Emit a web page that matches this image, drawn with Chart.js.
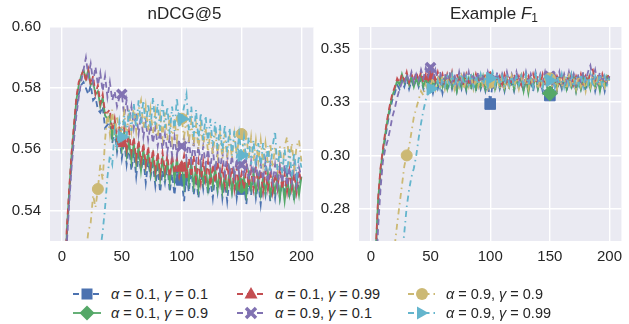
<!DOCTYPE html>
<html>
<head>
<meta charset="utf-8">
<script src="https://cdn.jsdelivr.net/npm/chart.js@4.4.1/dist/chart.umd.min.js"></script>
<style>
  body { margin: 0; background: #fff; }
  #wrap { position: relative; width: 629px; height: 324px; overflow: hidden; font-family: "Liberation Sans", Arial, sans-serif; color: #262626; }
  canvas { position: absolute; top: 0; }
  .title { position: absolute; top: 4px; font-size: 17px; line-height: 20px; text-align: center; white-space: nowrap; }
  .title sub { font-size: 12px; vertical-align: -3px; font-style: normal; }
  .leg { position: absolute; height: 18px; display: flex; align-items: center; font-family: "Liberation Sans", sans-serif; font-size: 14.5px; white-space: nowrap; }
  .leg svg { margin-right: 10px; }
</style>
</head>
<body>
<div id="wrap">
  <canvas id="left" width="321" height="270" style="left:0"></canvas>
  <canvas id="right" width="320" height="270" style="left:309px"></canvas>
  <div class="title" style="left:50px;width:269px">nDCG@5</div>
  <div class="title" style="left:359px;width:270px">Example <i>F</i><sub>1</sub></div>
</div>
<script>
// epochs
const epochs = [0, 2, 4, 6, 8, 10, 12, 14, 16, 18, 20, 22, 24, 26, 28, 30, 32, 34, 36, 38,
  40, 42, 44, 46, 48, 50, 52, 54, 56, 58, 60, 62, 64, 66, 68, 70, 72, 74, 76, 78,
  80, 82, 84, 86, 88, 90, 92, 94, 96, 98, 100, 102, 104, 106, 108, 110, 112, 114, 116, 118,
  120, 122, 124, 126, 128, 130, 132, 134, 136, 138, 140, 142, 144, 146, 148, 150, 152, 154, 156, 158,
  160, 162, 164, 166, 168, 170, 172, 174, 176, 178, 180, 182, 184, 186, 188, 190, 192, 194, 196, 198, 200];

const seriesNames = ['α = 0.1, γ = 0.1', 'α = 0.1, γ = 0.9', 'α = 0.1, γ = 0.99',
  'α = 0.9, γ = 0.1', 'α = 0.9, γ = 0.9', 'α = 0.9, γ = 0.99'];

// nDCG@5
const ndcgBlue = [0.470, 0.500, 0.531, 0.544, 0.556, 0.565, 0.573, 0.578, 0.581, 0.582,
  0.580, 0.578, 0.581, 0.576, 0.577, 0.573, 0.572, 0.574, 0.567, 0.568,
  0.569, 0.562, 0.566, 0.559, 0.564, 0.557, 0.563, 0.555, 0.561, 0.553,
  0.559, 0.551, 0.558, 0.553, 0.557, 0.549, 0.556, 0.551, 0.555, 0.548,
  0.554, 0.546, 0.553, 0.549, 0.555, 0.546, 0.552, 0.545, 0.553, 0.549,
  0.550, 0.543, 0.552, 0.546, 0.554, 0.545, 0.551, 0.544, 0.553, 0.547,
  0.553, 0.545, 0.550, 0.544, 0.552, 0.546, 0.553, 0.544, 0.550, 0.543,
  0.551, 0.546, 0.553, 0.544, 0.550, 0.547, 0.549, 0.542, 0.550, 0.545,
  0.552, 0.544, 0.549, 0.542, 0.550, 0.545, 0.551, 0.543, 0.549, 0.544,
  0.551, 0.544, 0.550, 0.546, 0.552, 0.544, 0.550, 0.543, 0.551, 0.547, 0.552];
const ndcgGreen = [0.472, 0.502, 0.533, 0.546, 0.558, 0.567, 0.576, 0.581, 0.584, 0.586,
  0.583, 0.586, 0.581, 0.582, 0.578, 0.579, 0.574, 0.577, 0.571, 0.570,
  0.571, 0.564, 0.569, 0.561, 0.566, 0.560, 0.566, 0.558, 0.563, 0.556,
  0.562, 0.555, 0.561, 0.553, 0.560, 0.554, 0.559, 0.552, 0.558, 0.551,
  0.557, 0.550, 0.557, 0.551, 0.556, 0.549, 0.557, 0.550, 0.557, 0.551,
  0.555, 0.548, 0.556, 0.549, 0.556, 0.548, 0.554, 0.547, 0.555, 0.549,
  0.554, 0.547, 0.553, 0.548, 0.554, 0.547, 0.553, 0.546, 0.552, 0.547,
  0.553, 0.546, 0.552, 0.547, 0.552, 0.548, 0.551, 0.545, 0.552, 0.547,
  0.552, 0.546, 0.551, 0.545, 0.551, 0.546, 0.552, 0.545, 0.550, 0.546,
  0.551, 0.544, 0.550, 0.543, 0.550, 0.545, 0.550, 0.544, 0.550, 0.545, 0.551];
const ndcgRed = [0.470, 0.503, 0.534, 0.547, 0.559, 0.568, 0.577, 0.582, 0.584, 0.586,
  0.582, 0.586, 0.581, 0.584, 0.578, 0.581, 0.575, 0.578, 0.572, 0.572,
  0.573, 0.566, 0.570, 0.563, 0.568, 0.562, 0.567, 0.560, 0.566, 0.559,
  0.564, 0.557, 0.563, 0.556, 0.562, 0.555, 0.561, 0.554, 0.560, 0.553,
  0.559, 0.552, 0.559, 0.553, 0.558, 0.551, 0.558, 0.552, 0.557, 0.551,
  0.554, 0.558, 0.550, 0.557, 0.551, 0.558, 0.550, 0.556, 0.549, 0.556,
  0.550, 0.556, 0.548, 0.555, 0.549, 0.556, 0.549, 0.554, 0.548, 0.555,
  0.549, 0.554, 0.547, 0.554, 0.548, 0.552, 0.547, 0.554, 0.548, 0.553,
  0.547, 0.554, 0.548, 0.553, 0.546, 0.553, 0.547, 0.553, 0.546, 0.552,
  0.547, 0.554, 0.547, 0.552, 0.546, 0.553, 0.547, 0.552, 0.546, 0.553, 0.549];
const ndcgPurple = [0.468, 0.497, 0.529, 0.542, 0.554, 0.563, 0.571, 0.577, 0.582, 0.586,
  0.590, 0.584, 0.588, 0.582, 0.587, 0.581, 0.585, 0.579, 0.584, 0.577,
  0.582, 0.576, 0.579, 0.574, 0.577, 0.578, 0.571, 0.576, 0.569, 0.574,
  0.567, 0.572, 0.565, 0.571, 0.564, 0.569, 0.563, 0.568, 0.562, 0.567,
  0.561, 0.566, 0.560, 0.565, 0.559, 0.564, 0.558, 0.564, 0.558, 0.563,
  0.561, 0.564, 0.557, 0.563, 0.556, 0.562, 0.556, 0.561, 0.555, 0.561,
  0.555, 0.560, 0.554, 0.560, 0.553, 0.559, 0.553, 0.559, 0.552, 0.558,
  0.552, 0.558, 0.551, 0.557, 0.552, 0.555, 0.551, 0.557, 0.550, 0.556,
  0.550, 0.556, 0.549, 0.555, 0.550, 0.556, 0.549, 0.555, 0.549, 0.555,
  0.548, 0.554, 0.549, 0.555, 0.548, 0.554, 0.549, 0.555, 0.548, 0.554, 0.551];
const ndcgYellow = [0.440, 0.450, 0.460, 0.470, 0.480, 0.490, 0.498, 0.505, 0.512, 0.519,
  0.526, 0.533, 0.536, 0.545, 0.541, 0.547, 0.555, 0.550, 0.563, 0.572,
  0.565, 0.573, 0.564, 0.571, 0.563, 0.567, 0.572, 0.564, 0.573, 0.566,
  0.574, 0.566, 0.573, 0.576, 0.567, 0.574, 0.566, 0.573, 0.565, 0.572,
  0.564, 0.571, 0.564, 0.572, 0.563, 0.571, 0.563, 0.570, 0.563, 0.571,
  0.570, 0.564, 0.570, 0.562, 0.569, 0.561, 0.568, 0.560, 0.568, 0.561,
  0.567, 0.559, 0.566, 0.558, 0.566, 0.558, 0.565, 0.557, 0.565, 0.557,
  0.564, 0.557, 0.565, 0.558, 0.564, 0.565, 0.559, 0.565, 0.557, 0.564,
  0.556, 0.563, 0.556, 0.563, 0.555, 0.562, 0.555, 0.562, 0.554, 0.561,
  0.554, 0.561, 0.553, 0.561, 0.564, 0.555, 0.562, 0.554, 0.561, 0.563, 0.556];
const ndcgCyan = [0.430, 0.440, 0.450, 0.460, 0.470, 0.478, 0.485, 0.491, 0.497, 0.502,
  0.507, 0.511, 0.515, 0.518, 0.521, 0.524, 0.527, 0.533, 0.541, 0.551,
  0.558, 0.555, 0.566, 0.560, 0.569, 0.564, 0.571, 0.564, 0.573, 0.566,
  0.575, 0.567, 0.576, 0.568, 0.576, 0.567, 0.575, 0.567, 0.577, 0.568,
  0.575, 0.566, 0.576, 0.567, 0.574, 0.565, 0.574, 0.566, 0.577, 0.567,
  0.570, 0.574, 0.578, 0.566, 0.574, 0.564, 0.573, 0.563, 0.572, 0.563,
  0.571, 0.562, 0.570, 0.561, 0.569, 0.560, 0.568, 0.559, 0.568, 0.559,
  0.567, 0.558, 0.566, 0.557, 0.565, 0.558, 0.564, 0.556, 0.564, 0.555,
  0.563, 0.554, 0.562, 0.554, 0.562, 0.553, 0.561, 0.553, 0.561, 0.566,
  0.553, 0.560, 0.552, 0.560, 0.552, 0.560, 0.551, 0.559, 0.551, 0.558, 0.554];

// Example F1
const f1Blue = [0.170, 0.212, 0.250, 0.276, 0.290, 0.300, 0.308, 0.315, 0.321, 0.326,
  0.329, 0.333, 0.331, 0.335, 0.332, 0.336, 0.331, 0.335, 0.332, 0.336,
  0.332, 0.336, 0.331, 0.335, 0.330, 0.334, 0.329, 0.334, 0.331, 0.335,
  0.329, 0.335, 0.330, 0.336, 0.331, 0.335, 0.330, 0.336, 0.331, 0.335,
  0.330, 0.336, 0.331, 0.335, 0.330, 0.336, 0.331, 0.335, 0.330, 0.335,
  0.324, 0.334, 0.330, 0.336, 0.331, 0.335, 0.330, 0.336, 0.331, 0.334,
  0.330, 0.336, 0.331, 0.335, 0.330, 0.336, 0.331, 0.335, 0.330, 0.336,
  0.331, 0.335, 0.330, 0.336, 0.331, 0.328, 0.332, 0.336, 0.330, 0.335,
  0.331, 0.336, 0.330, 0.335, 0.331, 0.336, 0.330, 0.335, 0.331, 0.336,
  0.330, 0.335, 0.331, 0.336, 0.330, 0.335, 0.331, 0.336, 0.330, 0.335, 0.334];
const f1Green = [0.175, 0.216, 0.254, 0.279, 0.293, 0.302, 0.310, 0.317, 0.323, 0.328,
  0.331, 0.335, 0.333, 0.338, 0.334, 0.337, 0.333, 0.337, 0.332, 0.336,
  0.333, 0.337, 0.332, 0.336, 0.333, 0.337, 0.332, 0.336, 0.333, 0.337,
  0.332, 0.336, 0.331, 0.337, 0.332, 0.336, 0.330, 0.336, 0.332, 0.337,
  0.331, 0.336, 0.332, 0.337, 0.331, 0.336, 0.332, 0.337, 0.331, 0.336,
  0.333, 0.337, 0.331, 0.336, 0.332, 0.337, 0.331, 0.336, 0.332, 0.337,
  0.331, 0.336, 0.332, 0.337, 0.330, 0.336, 0.329, 0.336, 0.332, 0.337,
  0.331, 0.336, 0.332, 0.337, 0.331, 0.329, 0.333, 0.337, 0.331, 0.336,
  0.332, 0.337, 0.331, 0.336, 0.332, 0.337, 0.330, 0.336, 0.331, 0.337,
  0.332, 0.336, 0.331, 0.337, 0.332, 0.336, 0.330, 0.336, 0.332, 0.337, 0.335];
const f1Red = [0.172, 0.215, 0.255, 0.280, 0.294, 0.303, 0.311, 0.318, 0.324, 0.329,
  0.332, 0.336, 0.334, 0.338, 0.335, 0.339, 0.334, 0.338, 0.335, 0.339,
  0.335, 0.339, 0.334, 0.338, 0.335, 0.337, 0.340, 0.335, 0.339, 0.334,
  0.338, 0.333, 0.338, 0.334, 0.339, 0.333, 0.338, 0.334, 0.337, 0.333,
  0.338, 0.334, 0.337, 0.333, 0.338, 0.334, 0.337, 0.333, 0.338, 0.334,
  0.336, 0.333, 0.338, 0.334, 0.337, 0.333, 0.338, 0.334, 0.337, 0.333,
  0.338, 0.334, 0.337, 0.333, 0.338, 0.334, 0.337, 0.333, 0.338, 0.334,
  0.337, 0.333, 0.338, 0.334, 0.337, 0.335, 0.338, 0.333, 0.337, 0.334,
  0.338, 0.333, 0.337, 0.334, 0.338, 0.333, 0.337, 0.334, 0.338, 0.333,
  0.337, 0.334, 0.339, 0.340, 0.335, 0.338, 0.333, 0.338, 0.334, 0.338, 0.336];
const f1Purple = [0.160, 0.200, 0.240, 0.266, 0.284, 0.297, 0.303, 0.307, 0.312, 0.318,
  0.322, 0.327, 0.331, 0.334, 0.333, 0.338, 0.335, 0.339, 0.334, 0.338,
  0.335, 0.340, 0.336, 0.341, 0.337, 0.341, 0.336, 0.340, 0.335, 0.339,
  0.334, 0.338, 0.334, 0.339, 0.334, 0.338, 0.333, 0.339, 0.334, 0.338,
  0.334, 0.339, 0.333, 0.338, 0.334, 0.339, 0.334, 0.338, 0.333, 0.339,
  0.335, 0.338, 0.334, 0.339, 0.333, 0.338, 0.334, 0.339, 0.334, 0.338,
  0.334, 0.339, 0.334, 0.338, 0.333, 0.339, 0.334, 0.338, 0.334, 0.339,
  0.334, 0.338, 0.334, 0.339, 0.334, 0.337, 0.333, 0.338, 0.334, 0.339,
  0.333, 0.338, 0.334, 0.339, 0.334, 0.338, 0.333, 0.338, 0.334, 0.339,
  0.335, 0.339, 0.342, 0.336, 0.340, 0.334, 0.339, 0.334, 0.338, 0.334, 0.337];
const f1Yellow = [0.150, 0.160, 0.170, 0.180, 0.190, 0.200, 0.210, 0.220, 0.232, 0.244,
  0.258, 0.268, 0.277, 0.286, 0.295, 0.300, 0.304, 0.311, 0.318, 0.322,
  0.326, 0.330, 0.328, 0.333, 0.330, 0.333, 0.336, 0.331, 0.337, 0.332,
  0.337, 0.331, 0.336, 0.332, 0.337, 0.331, 0.336, 0.332, 0.337, 0.331,
  0.336, 0.332, 0.337, 0.331, 0.336, 0.332, 0.337, 0.332, 0.336, 0.331,
  0.334, 0.337, 0.332, 0.336, 0.331, 0.337, 0.332, 0.336, 0.331, 0.337,
  0.332, 0.336, 0.331, 0.337, 0.332, 0.336, 0.331, 0.337, 0.332, 0.336,
  0.331, 0.337, 0.332, 0.336, 0.332, 0.336, 0.332, 0.336, 0.331, 0.337,
  0.332, 0.336, 0.331, 0.337, 0.332, 0.336, 0.331, 0.337, 0.332, 0.336,
  0.330, 0.336, 0.332, 0.337, 0.331, 0.336, 0.332, 0.337, 0.332, 0.336, 0.335];
const f1Cyan = [0.120, 0.130, 0.140, 0.150, 0.160, 0.170, 0.180, 0.190, 0.200, 0.210,
  0.220, 0.230, 0.240, 0.253, 0.264, 0.276, 0.284, 0.290, 0.294, 0.300,
  0.308, 0.315, 0.321, 0.326, 0.329, 0.331, 0.334, 0.330, 0.335, 0.331,
  0.336, 0.332, 0.337, 0.333, 0.338, 0.332, 0.337, 0.333, 0.338, 0.333,
  0.337, 0.333, 0.338, 0.332, 0.337, 0.333, 0.338, 0.333, 0.337, 0.332,
  0.336, 0.339, 0.333, 0.338, 0.333, 0.337, 0.332, 0.338, 0.333, 0.337,
  0.332, 0.338, 0.333, 0.337, 0.332, 0.338, 0.333, 0.337, 0.332, 0.338,
  0.333, 0.337, 0.332, 0.338, 0.333, 0.335, 0.338, 0.332, 0.337, 0.333,
  0.338, 0.332, 0.337, 0.333, 0.338, 0.332, 0.337, 0.333, 0.338, 0.332,
  0.337, 0.333, 0.338, 0.332, 0.337, 0.333, 0.338, 0.332, 0.337, 0.333, 0.336];

// epochs that carry a marker, per series
const markBlue = [100, 150];
const markGreen = [150];
const markRed = [50, 100];
const markPurple = [50, 100, 150];
const markYellow = [30, 100, 150];
const markCyan = [50, 100, 150];

const xTicks = [0, 50, 100, 150, 200];
const ndcgTicks = [0.54, 0.56, 0.58, 0.60];
const f1Ticks = [0.275, 0.3, 0.325, 0.35];

const colors = ['#4C72B0', '#55A868', '#C44E52', '#8172B2', '#CCB974', '#64B5CD'];
const dashes = [[6, 4], [], [6, 4], [6, 4], [6, 4, 1.5, 4], [6, 4, 1.5, 4]];
// chart.js point styles: square, diamond, triangle up, thick x, circle, triangle right
const markers = [
  { style: 'rect', rot: 0, r: 7.5, bw: 1 },
  { style: 'rectRot', rot: 0, r: 7.5, bw: 1 },
  { style: 'triangle', rot: 0, r: 7, bw: 1 },
  { style: 'crossRot', rot: 0, r: 6.5, bw: 3.5 },
  { style: 'circle', rot: 0, r: 5.5, bw: 1 },
  { style: 'triangle', rot: 90, r: 7, bw: 1 }
];
const markEpochs = [markBlue, markGreen, markRed, markPurple, markYellow, markCyan];

const plotBg = {
  id: 'plotBg',
  beforeDraw(chart) {
    const a = chart.chartArea;
    const ctx = chart.ctx;
    ctx.save();
    ctx.fillStyle = '#EAEAF2';
    ctx.fillRect(a.left, a.top, a.right - a.left, a.bottom - a.top);
    ctx.restore();
  }
};

const tickFont = { family: 'Liberation Sans', size: 15 };

function makeChart(id, series, yMin, yMax, yTicks, padRight) {
  const datasets = series.map((vals, i) => ({
    label: seriesNames[i],
    data: epochs.map((e, k) => ({ x: e, y: vals[k] })),
    borderColor: colors[i],
    backgroundColor: colors[i],
    borderWidth: 1.8,
    borderDash: dashes[i],
    tension: 0,
    order: 5 - i,
    pointStyle: markers[i].style,
    pointRotation: markers[i].rot,
    pointBorderWidth: markers[i].bw,
    pointBorderColor: colors[i],
    pointBackgroundColor: colors[i],
    pointRadius: ctx => markEpochs[i].includes(epochs[ctx.dataIndex]) ? markers[i].r : 0
  }));

  return new Chart(document.getElementById(id), {
    type: 'line',
    data: { datasets },
    plugins: [plotBg],
    options: {
      responsive: false,
      animation: false,
      events: [],
      layout: { padding: { top: 27, right: padRight, left: 0, bottom: 0 } },
      plugins: { legend: { display: false }, tooltip: { enabled: false }, title: { display: false } },
      scales: {
        x: {
          type: 'linear',
          min: -10,
          max: 210,
          afterBuildTicks: s => { s.ticks = xTicks.map(v => ({ value: v })); },
          afterFit: s => { s.height = 29; },
          grid: { color: '#fff', lineWidth: 1.4, drawTicks: false },
          border: { display: false },
          ticks: { padding: 7, color: '#262626', font: tickFont, maxRotation: 0, autoSkip: false,
            callback: v => String(v) }
        },
        y: {
          min: yMin,
          max: yMax,
          afterBuildTicks: s => { s.ticks = yTicks.map(v => ({ value: v })); },
          afterFit: s => { s.width = 50; },
          grid: { color: '#fff', lineWidth: 1.4, drawTicks: false },
          border: { display: false },
          ticks: { padding: 9, color: '#262626', font: tickFont, autoSkip: false,
            callback: v => v.toFixed(2) }
        }
      }
    }
  });
}

makeChart('left', [ndcgBlue, ndcgGreen, ndcgRed, ndcgPurple, ndcgYellow, ndcgCyan], 0.53, 0.60, ndcgTicks, 2);
makeChart('right', [f1Blue, f1Green, f1Red, f1Purple, f1Yellow, f1Cyan], 0.26, 0.36, f1Ticks, 0);

// legend: 3 columns, 2 rows, filled column by column
function markerSvg(i) {
  const c = colors[i];
  switch (i) {
    case 0: return `<rect x="8.5" y="2.5" width="11" height="11" fill="${c}"/>`;
    case 1: return `<polygon points="14,0.5 21.5,8 14,15.5 6.5,8" fill="${c}"/>`;
    case 2: return `<polygon points="14,1 20.5,12.5 7.5,12.5" fill="${c}"/>`;
    case 3: return `<path d="M9 3 L19 13 M19 3 L9 13" stroke="${c}" stroke-width="3.5"/>`;
    case 4: return `<circle cx="14" cy="8" r="6" fill="${c}"/>`;
    default: return `<polygon points="20.5,8 9,1.5 9,14.5" fill="${c}"/>`;
  }
}
const legCols = [73, 237, 408];
const legRows = [285, 304];
const wrap = document.getElementById('wrap');
seriesNames.forEach((name, i) => {
  const col = Math.floor(i / 2), row = i % 2;
  const d = document.createElement('div');
  d.className = 'leg';
  d.style.left = legCols[col] + 'px';
  d.style.top = legRows[row] + 'px';
  const dash = dashes[i].length ? `stroke-dasharray="${dashes[i].join(' ')}"` : '';
  const label = name.replace('α', '<i>α</i>').replace('γ', '<i>γ</i>');
  d.innerHTML = `<svg width="28" height="16"><line x1="0" y1="8" x2="28" y2="8" stroke="${colors[i]}" stroke-width="1.8" ${dash}/>${markerSvg(i)}</svg><span>${label}</span>`;
  wrap.appendChild(d);
});
</script>
</body>
</html>
